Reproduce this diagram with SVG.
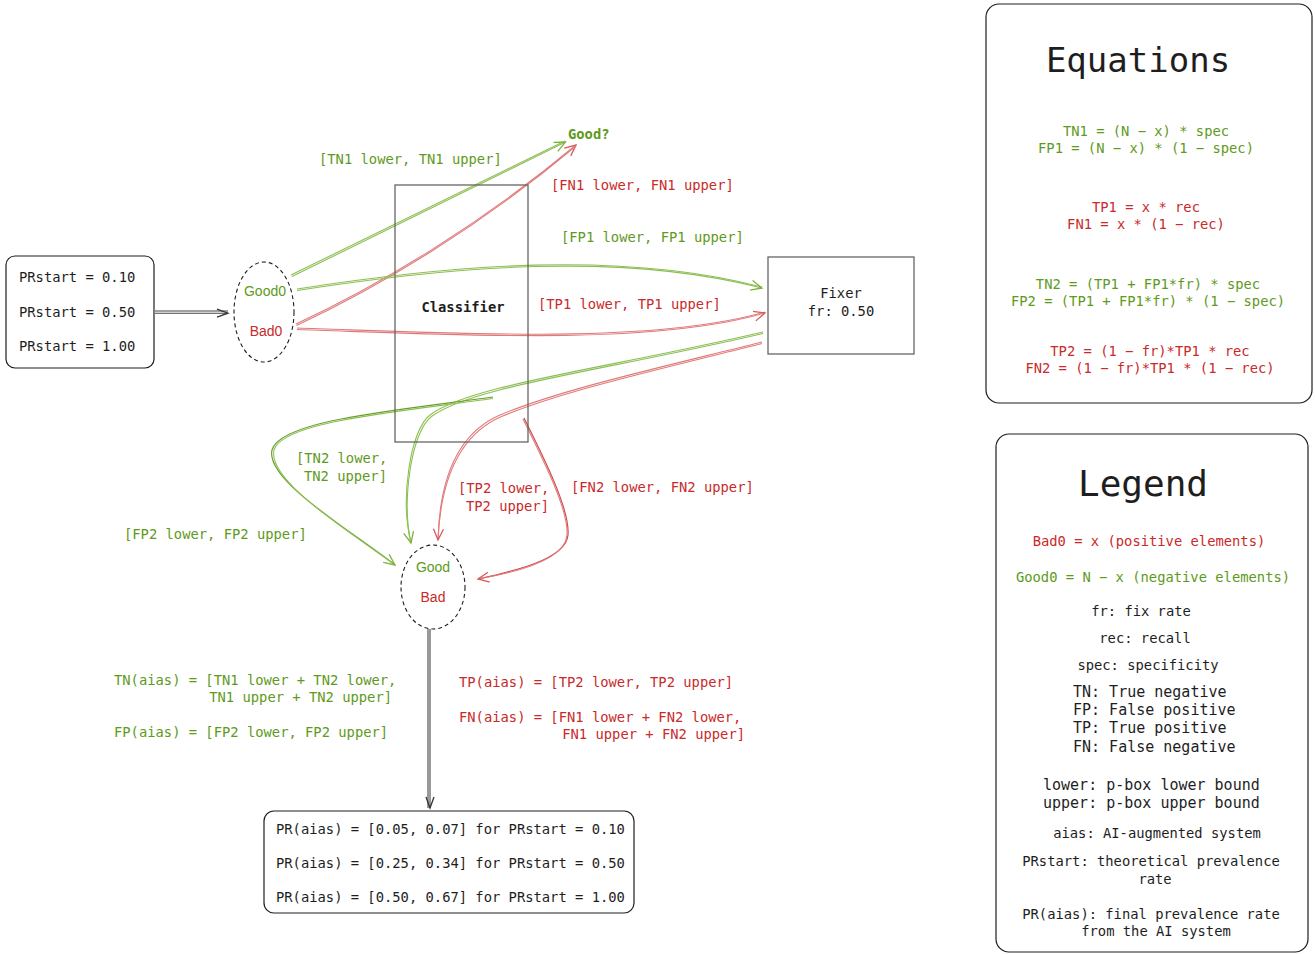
<svg xmlns="http://www.w3.org/2000/svg" width="1315" height="954" viewBox="0 0 1315 954">
<style>
.m{font-family:"DejaVu Sans Mono","Liberation Mono",monospace;font-size:13.8px;fill:#1e1e1e}
.g{fill:#5e9a1c}
.r{fill:#c92a2a}
.b{font-weight:bold}
.s{font-family:"Liberation Sans",Arial,sans-serif;font-size:14px}
.c{text-anchor:middle}
.e{text-anchor:end}
.box{fill:#fff;stroke:#1e1e1e;stroke-width:1.2}
.gl{fill:none;stroke:#8dbf55;stroke-width:1.1}
.gd{fill:none;stroke:#6a9e2a;stroke-width:1.2}
.rl{fill:none;stroke:#e07b7b;stroke-width:1.1}
.rd{fill:none;stroke:#cf4b4b;stroke-width:1.2}
.kl{fill:none;stroke:#444;stroke-width:1.1}
</style>
<defs>
<marker id="ag" viewBox="-12 -7 14 14" markerWidth="14" markerHeight="14" refX="0" refY="0" orient="auto" markerUnits="userSpaceOnUse"><path d="M-11,-5 L0,0 L-11,5" fill="none" stroke="#7fb241" stroke-width="1.3"/></marker>
<marker id="ar" viewBox="-12 -7 14 14" markerWidth="14" markerHeight="14" refX="0" refY="0" orient="auto" markerUnits="userSpaceOnUse"><path d="M-11,-5 L0,0 L-11,5" fill="none" stroke="#d85a5a" stroke-width="1.3"/></marker>
<marker id="ak" viewBox="-12 -7 14 14" markerWidth="14" markerHeight="14" refX="0" refY="0" orient="auto" markerUnits="userSpaceOnUse"><path d="M-11,-4 L0,0 L-11,4" fill="none" stroke="#333" stroke-width="1.3"/></marker>
</defs>
<rect width="1315" height="954" fill="#fff"/>

<g id="connectors">
<path class="kl" d="M155,311 L228,311"/><path class="kl" d="M155,313.2 L228,313.2" marker-end="url(#ak)"/>
<path class="kl" d="M428,629 L428,808"/><path class="kl" d="M430,629 L430,808" marker-end="url(#ak)"/>
<path class="gl" d="M291,275 L565,141"/><path class="gl" d="M292,276.5 L565.5,142" marker-end="url(#ag)"/>
<path class="rl" d="M296,324 C380,285 480,225 576,145" marker-end="url(#ar)"/><path class="rl" d="M296.5,325.5 C380,286.5 480,226.5 576,146"/>
<path class="gl" d="M297,289 C450,265 620,250 762,287"/><path class="gl" d="M297,290.5 C450,266.5 620,251.5 762,288" marker-end="url(#ag)"/>
<path class="rl" d="M297,328 C450,333 650,345 765,312"/><path class="rl" d="M297,329.5 C450,334.5 650,346.5 765,313" marker-end="url(#ar)"/>
<path class="gl" d="M763,332 C600,370 470,385 430,415 C410,430 400,500 411,543"/><path class="gl" d="M763,333.5 C600,371.5 471.5,386.5 431.5,416.5 C411.5,431.5 401.5,500 411,543" marker-end="url(#ag)"/>
<path class="rl" d="M762,342 C650,370 560,390 500,415 C470,428 440,460 438,540"/><path class="rl" d="M762,343.5 C650,371.5 561.5,391.5 501.5,416.5 C471.5,429.5 441.5,460 438,540" marker-end="url(#ar)"/>
<path class="rd" d="M524,418 C545,460 570,510 568,535 C566,560 510,572 478,579"/><path class="rl" d="M523,419 C544,461 569,511 567,535 C565,561 510,573.5 478,579" marker-end="url(#ar)"/>
<path class="gd" d="M493,397 C400,410 280,420 272,450 C265,480 350,530 395,565"/><path class="gl" d="M493,398.5 C400,411.5 282,421.5 274,450 C267,481 350,531.5 395,565" marker-end="url(#ag)"/>
</g>

<g id="prstart">
<rect class="box" x="6" y="256" width="148" height="112" rx="9"/>
<text class="m" x="19" y="282">PRstart = 0.10</text>
<text class="m" x="19" y="317">PRstart = 0.50</text>
<text class="m" x="19" y="351">PRstart = 1.00</text>
</g>

<g id="start-pop">
<ellipse cx="264" cy="312" rx="30" ry="50" fill="none" stroke="#1e1e1e" stroke-width="1.1" stroke-dasharray="4 3"/>
<text class="s g c" x="265" y="296">Good0</text>
<text class="s r c" x="266" y="336">Bad0</text>
</g>

<g id="classifier">
<rect x="395" y="185" width="133" height="257" fill="none" stroke="#666" stroke-width="1.3"/>
<text class="m b c" x="463" y="312">Classifier</text>
</g>

<g id="good-q">
<text class="m g b" x="568" y="139">Good?</text>
</g>

<g id="fixer">
<rect x="768" y="257" width="146" height="97" fill="#fff" stroke="#666" stroke-width="1.3"/>
<text class="m c" x="841" y="298">Fixer</text>
<text class="m c" x="841" y="316">fr: 0.50</text>
</g>

<g id="end-pop">
<ellipse cx="433" cy="587" rx="32" ry="42" fill="none" stroke="#1e1e1e" stroke-width="1.1" stroke-dasharray="4 3"/>
<text class="s g c" x="433" y="572">Good</text>
<text class="s r c" x="433" y="602">Bad</text>
</g>

<g id="edge-labels">
<text class="m g" x="319" y="164">[TN1 lower, TN1 upper]</text>
<text class="m r" x="551" y="190">[FN1 lower, FN1 upper]</text>
<text class="m g" x="561" y="242">[FP1 lower, FP1 upper]</text>
<text class="m r" x="538" y="309">[TP1 lower, TP1 upper]</text>
<text class="m g" x="296" y="463">[TN2 lower,</text>
<text class="m g e" x="387" y="481">TN2 upper]</text>
<text class="m r" x="458" y="493">[TP2 lower,</text>
<text class="m r e" x="549" y="511">TP2 upper]</text>
<text class="m r" x="571" y="492">[FN2 lower, FN2 upper]</text>
<text class="m g" x="124" y="539">[FP2 lower, FP2 upper]</text>
</g>

<g id="aias-rates">
<text class="m g" x="114" y="685">TN(aias) = [TN1 lower + TN2 lower,</text>
<text class="m g e" x="392" y="702">TN1 upper + TN2 upper]</text>
<text class="m g" x="114" y="737">FP(aias) = [FP2 lower, FP2 upper]</text>
<text class="m r" x="459" y="687">TP(aias) = [TP2 lower, TP2 upper]</text>
<text class="m r" x="459" y="722">FN(aias) = [FN1 lower + FN2 lower,</text>
<text class="m r e" x="745" y="739">FN1 upper + FN2 upper]</text>
</g>

<g id="result">
<rect class="box" x="264" y="811" width="370" height="102" rx="10"/>
<text class="m" x="276" y="834">PR(aias) = [0.05, 0.07] for PRstart = 0.10</text>
<text class="m" x="276" y="868">PR(aias) = [0.25, 0.34] for PRstart = 0.50</text>
<text class="m" x="276" y="902">PR(aias) = [0.50, 0.67] for PRstart = 1.00</text>
</g>

<g id="equations">
<rect class="box" x="986" y="4" width="326" height="399" rx="13"/>
<text class="m c" x="1138" y="72" style="font-size:34px">Equations</text>
<text class="m g c" x="1146" y="136">TN1 = (N − x) * spec</text>
<text class="m g c" x="1146" y="153">FP1 = (N − x) * (1 − spec)</text>
<text class="m r c" x="1146" y="212">TP1 = x * rec</text>
<text class="m r c" x="1146" y="229">FN1 = x * (1 − rec)</text>
<text class="m g c" x="1148" y="289">TN2 = (TP1 + FP1*fr) * spec</text>
<text class="m g c" x="1148" y="306">FP2 = (TP1 + FP1*fr) * (1 − spec)</text>
<text class="m r c" x="1150" y="356">TP2 = (1 − fr)*TP1 * rec</text>
<text class="m r c" x="1150" y="373">FN2 = (1 − fr)*TP1 * (1 − rec)</text>
</g>

<g id="legend">
<rect class="box" x="996" y="434" width="312" height="518" rx="13"/>
<text class="m c" x="1143" y="496" style="font-size:36px">Legend</text>
<text class="m r c" x="1149" y="546">Bad0 = x (positive elements)</text>
<text class="m g c" x="1153" y="582">Good0 = N − x (negative elements)</text>
<text class="m c" x="1141" y="616">fr: fix rate</text>
<text class="m c" x="1145" y="643">rec: recall</text>
<text class="m c" x="1148" y="670">spec: specificity</text>
<text class="m" x="1073" y="697" style="font-size:15px">TN: True negative</text>
<text class="m" x="1073" y="715" style="font-size:15px">FP: False positive</text>
<text class="m" x="1073" y="733" style="font-size:15px">TP: True positive</text>
<text class="m" x="1073" y="752" style="font-size:15px">FN: False negative</text>
<text class="m" x="1043" y="790" style="font-size:15px">lower: p-box lower bound</text>
<text class="m" x="1043" y="808" style="font-size:15px">upper: p-box upper bound</text>
<text class="m c" x="1157" y="838">aias: AI-augmented system</text>
<text class="m c" x="1151" y="866">PRstart: theoretical prevalence</text>
<text class="m c" x="1155" y="884">rate</text>
<text class="m c" x="1151" y="919">PR(aias): final prevalence rate</text>
<text class="m c" x="1156" y="936">from the AI system</text>
</g>
</svg>
